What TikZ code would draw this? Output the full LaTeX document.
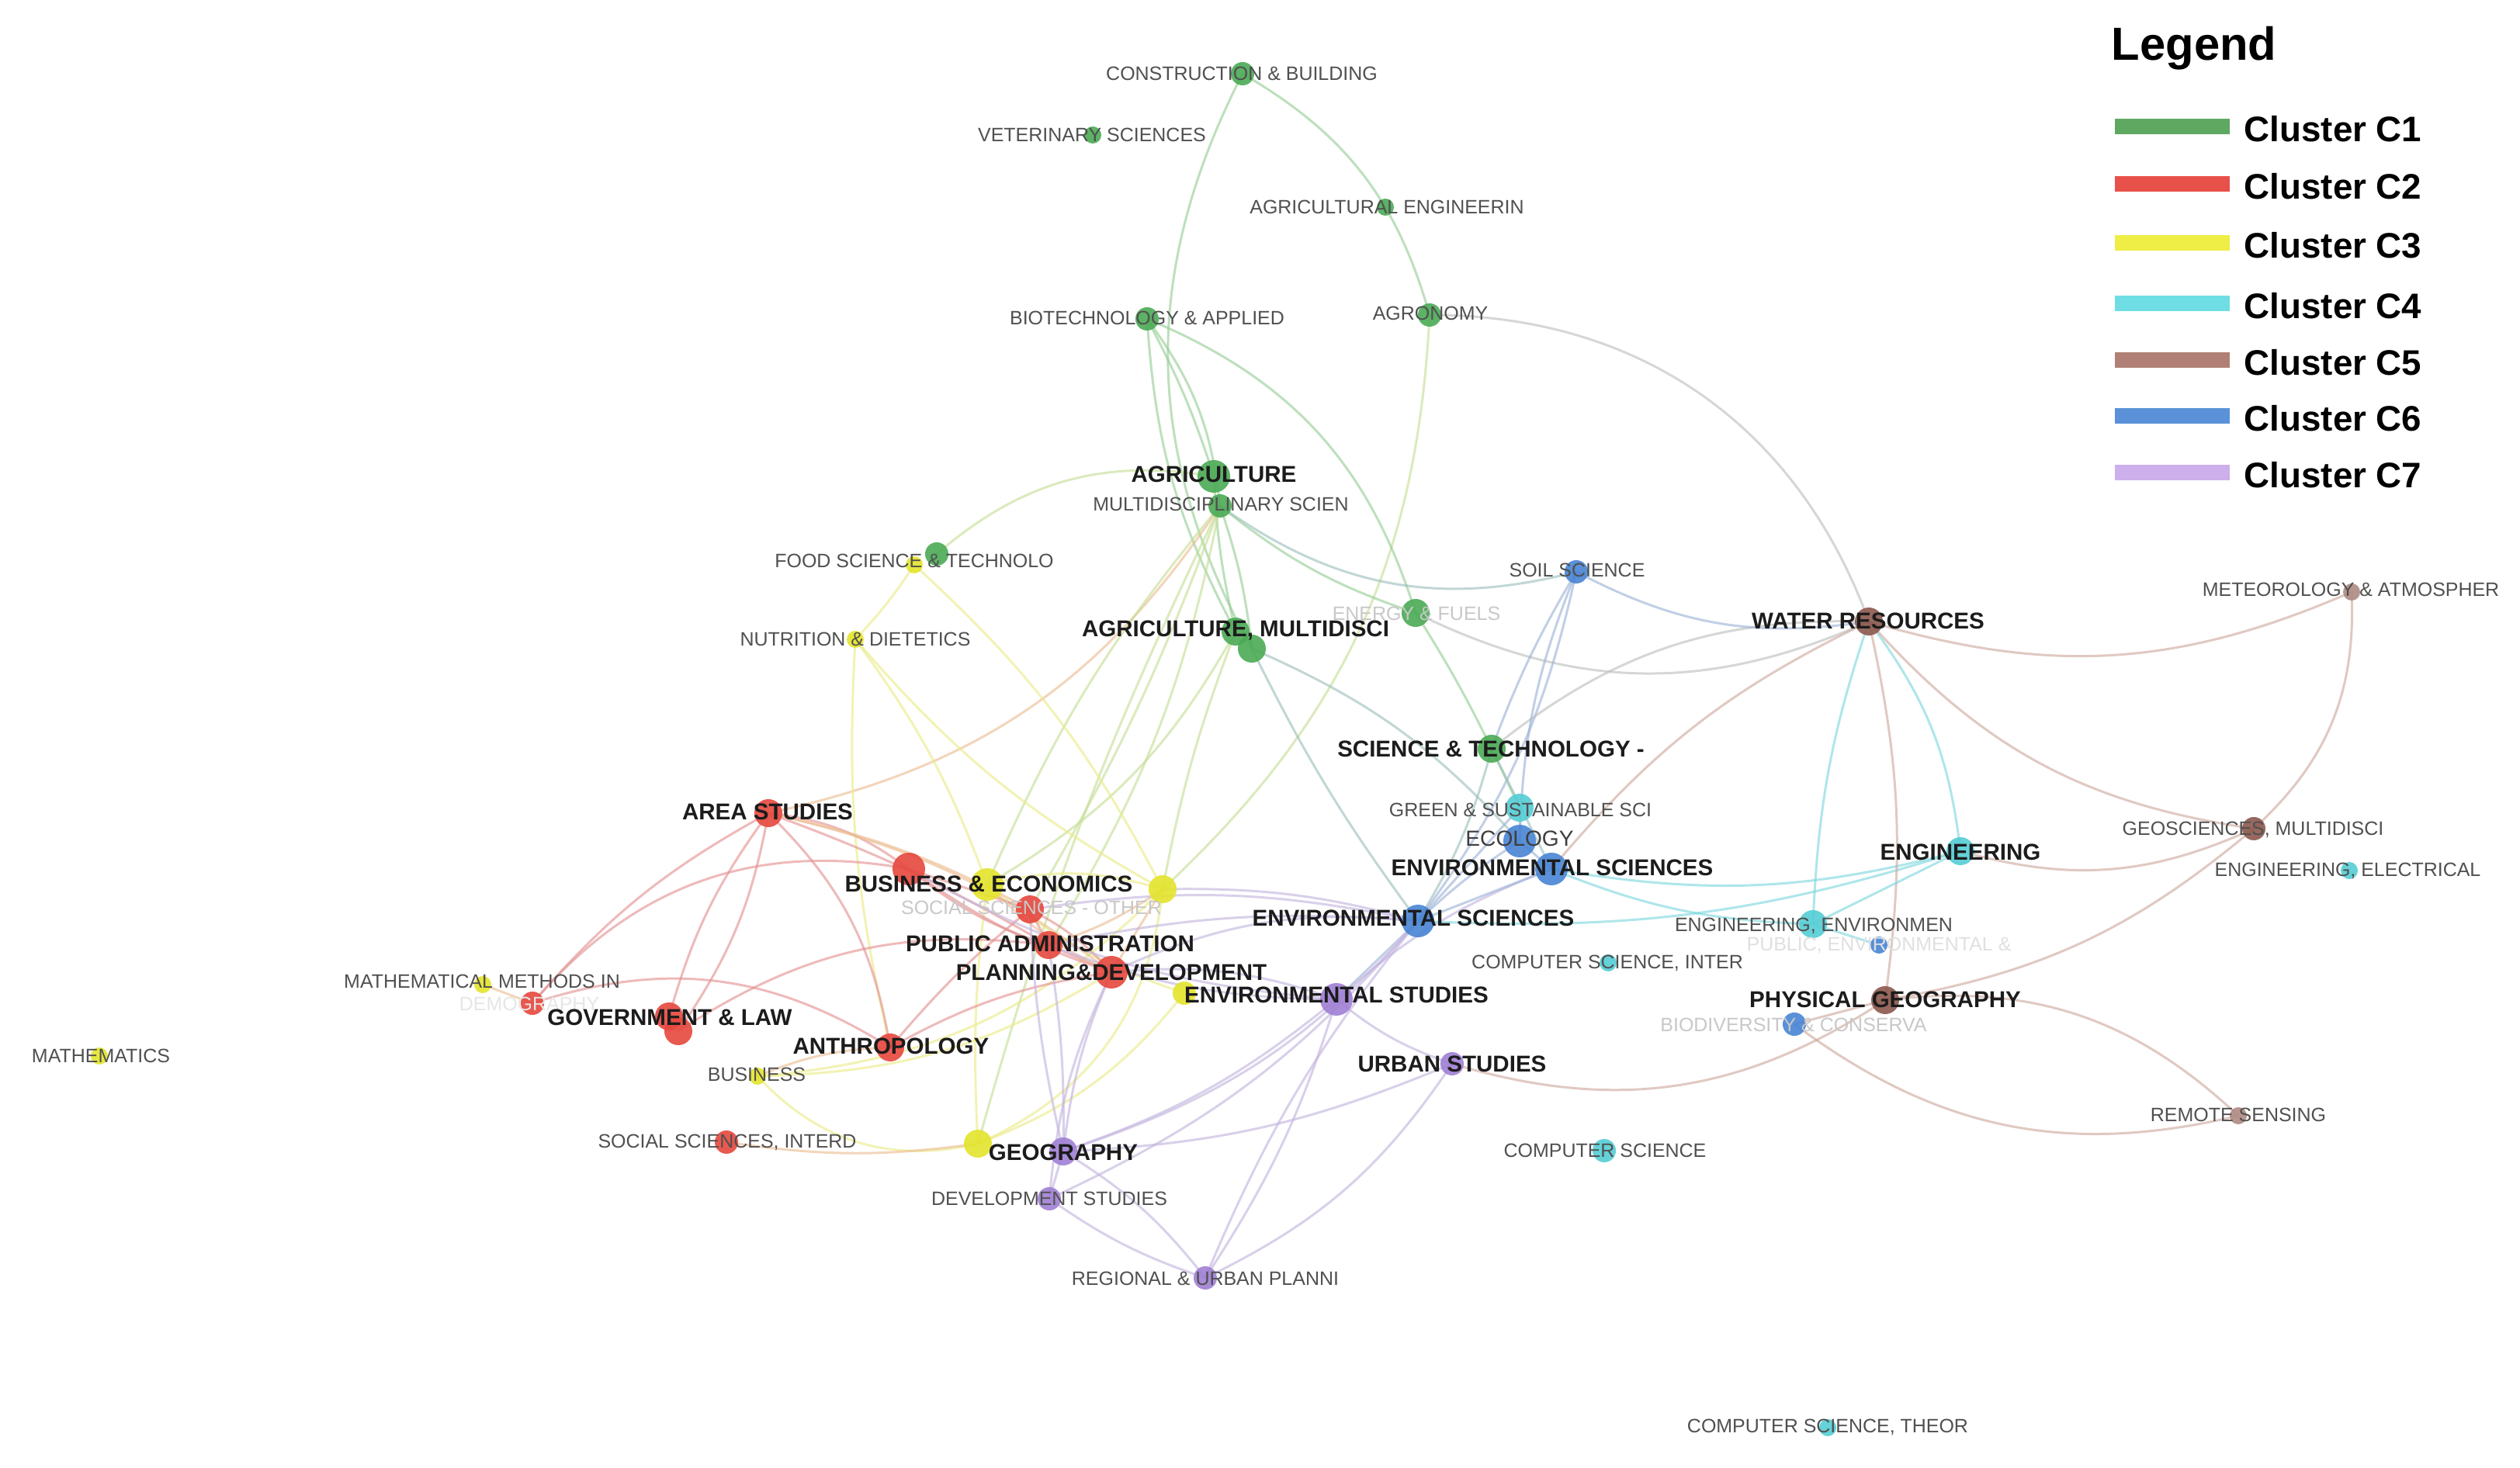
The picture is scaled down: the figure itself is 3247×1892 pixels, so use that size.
\documentclass[tikz,border=0pt]{standalone}
\usepackage{fontspec}
\setmainfont{Liberation Sans}
\definecolor{cG}{RGB}{75,170,85}
\definecolor{cR}{RGB}{230,72,62}
\definecolor{cY}{RGB}{228,228,45}
\definecolor{cC}{RGB}{85,205,212}
\definecolor{cBr}{RGB}{140,88,78}
\definecolor{cB}{RGB}{72,132,212}
\definecolor{cP}{RGB}{160,128,212}
\definecolor{eG}{RGB}{150,205,150}
\definecolor{eGY}{RGB}{198,222,150}
\definecolor{eY}{RGB}{235,235,135}
\definecolor{eR}{RGB}{228,145,145}
\definecolor{eRY}{RGB}{236,188,145}
\definecolor{eGr}{RGB}{188,192,188}
\definecolor{eGB}{RGB}{155,192,188}
\definecolor{eB}{RGB}{155,178,215}
\definecolor{eP}{RGB}{195,180,222}
\definecolor{eBr}{RGB}{205,168,158}
\definecolor{eC}{RGB}{125,215,222}
\definecolor{labgray}{RGB}{80,80,80}
\definecolor{labdark}{RGB}{28,28,28}
\definecolor{labfaint}{RGB}{200,200,200}
\definecolor{labvfaint}{RGB}{230,230,230}
\definecolor{L1}{RGB}{95,168,98}
\definecolor{L2}{RGB}{232,80,74}
\definecolor{L3}{RGB}{238,238,70}
\definecolor{L4}{RGB}{110,222,228}
\definecolor{L5}{RGB}{176,128,118}
\definecolor{L6}{RGB}{90,145,216}
\definecolor{L7}{RGB}{205,175,235}
\tikzset{
  dot/.style={circle, inner sep=0pt, draw=none, fill opacity=0.9},
  dXL/.style={minimum size=4.2mm},
  dL/.style={minimum size=3.6mm},
  dM/.style={minimum size=3.0mm},
  dS/.style={minimum size=2.2mm},
  lg/.style={text=labgray, font=\fontsize{7.1}{8}\selectfont, inner sep=0pt},
  lb/.style={text=labdark, font=\bfseries\fontsize{8.4}{9}\selectfont, inner sep=0pt},
  lf/.style={text=labfaint, font=\fontsize{7.1}{8}\selectfont, inner sep=0pt},
  ed/.style={line width=0.85pt, opacity=0.62},
  legbar/.style={inner sep=0pt, minimum width=1.47cm, minimum height=0.2cm},
  legtext/.style={anchor=west, inner sep=0pt, font=\bfseries\fontsize{13}{15}\selectfont},
}
\begin{document}
\begin{tikzpicture}[x=0.01cm,y=-0.01cm]
\useasboundingbox[fill=white] (0,0) rectangle (3247,1892);
% ---------- node positions ----------
\coordinate (con) at (1601,95);
\coordinate (vet) at (1408,174);
\coordinate (ageng) at (1785,267);
\coordinate (bio) at (1478,411);
\coordinate (agro) at (1842,406);
\coordinate (agr) at (1564,614);
\coordinate (mul) at (1572,652);
\coordinate (food) at (1207,714);
\coordinate (foody) at (1178,728);
\coordinate (nut) at (1102,824);
\coordinate (agm1) at (1592,814);
\coordinate (agm2) at (1613,836);
\coordinate (ene) at (1824,790);
\coordinate (soil) at (2031,737);
\coordinate (wat) at (2408,801);
\coordinate (met) at (3030,763);
\coordinate (sci) at (1922,965);
\coordinate (green) at (1958,1041);
\coordinate (eco) at (1958,1084);
\coordinate (env1) at (1999,1120);
\coordinate (eng) at (2526,1097);
\coordinate (geo5) at (2904,1068);
\coordinate (ele) at (3027,1122);
\coordinate (env2) at (1827,1187);
\coordinate (engenv) at (2336,1191);
\coordinate (pub) at (2421,1218);
\coordinate (csi) at (2072,1241);
\coordinate (phy) at (2429,1289);
\coordinate (bio2) at (2312,1320);
\coordinate (urb) at (1871,1371);
\coordinate (rem) at (2884,1438);
\coordinate (cs) at (2067,1483);
\coordinate (cst) at (2355,1840);
\coordinate (envst) at (1722,1288);
\coordinate (envsty) at (1526,1280);
\coordinate (bizr) at (1171,1120);
\coordinate (bizy) at (1272,1140);
\coordinate (yel2) at (1498,1146);
\coordinate (soc) at (1327,1172);
\coordinate (padm) at (1351,1218);
\coordinate (plan) at (1432,1253);
\coordinate (area) at (990,1048);
\coordinate (mat) at (622,1269);
\coordinate (demo) at (686,1293);
\coordinate (gov) at (862,1310);
\coordinate (gov2) at (874,1329);
\coordinate (ant) at (1147,1350);
\coordinate (bus) at (976,1387);
\coordinate (math) at (128,1361);
\coordinate (ssi) at (936,1472);
\coordinate (geoy) at (1260,1474);
\coordinate (geog) at (1370,1484);
\coordinate (dev) at (1352,1545);
\coordinate (reg) at (1553,1647);
% ---------- edges ----------
% green cluster
\draw[ed,eG] (con) to[bend right=28] (agm2);
\draw[ed,eG] (con) to[bend left=22] (agro);
\draw[ed,eGY] (agro) to[bend left=22] (yel2);
\draw[ed,eGr] (agro) to[bend left=35] (wat);
\draw[ed,eG] (bio) to[bend left=25] (ene);
\draw[ed,eG] (bio) to[bend right=12] (agm1);
\draw[ed,eG] (bio) to[bend left=5] (agr);
\draw[ed,eG] (bio) to[bend left=15] (mul);
\draw[ed,eGY] (agr) to[bend right=25] (food);
\draw[ed,eG] (agr) to[bend right=5] (agm1);
\draw[ed,eG] (mul) to[bend left=6] (agm2);
\draw[ed,eRY] (area) to[bend right=22] (mul);
\draw[ed,eGY] (mul) to[bend right=8] (bizy);
\draw[ed,eGY] (mul) to[bend left=5] (soc);
\draw[ed,eGY] (mul) to[bend left=10] (padm);
\draw[ed,eGB] (mul) to[bend right=25] (soil);
\draw[ed,eGr] (ene) to[bend right=25] (wat);
\draw[ed,eGB] (agm2) to[bend right=5] (env2);
\draw[ed,eGY] (agm1) to[bend left=15] (bizy);
\draw[ed,eGY] (agm1) to[bend right=5] (yel2);
\draw[ed,eG] (ene) to[bend left=3] (sci);
\draw[ed,eGB] (agm2) to[bend left=12] (eco);
\draw[ed,eG] (mul) to[bend right=10] (ene);
\draw[ed,eGY] (mul) to[bend right=5] (geoy);
% yellow cluster
\draw[ed,eY] (foody) to[bend left=5] (nut);
\draw[ed,eY] (nut) to[bend left=8] (bizy);
\draw[ed,eY] (nut) to[bend right=10] (yel2);
\draw[ed,eY] (nut) to[bend right=8] (ant);
\draw[ed,eY] (foody) to[bend left=10] (yel2);
\draw[ed,eY] (bizy) to[bend left=15] (yel2);
\draw[ed,eY] (bizy) to[bend right=10] (envsty);
\draw[ed,eY] (yel2) to[bend left=30] (geoy);
\draw[ed,eY] (bus) to[bend right=30] (geoy);
\draw[ed,eY] (bus) to[bend right=20] (yel2);
\draw[ed,eRY] (ssi) to[bend right=8] (geoy);
\draw[ed,eY] (bizy) to[bend right=5] (geoy);
\draw[ed,eY] (envsty) to[bend left=15] (geoy);
\draw[ed,eY] (bus) to[bend right=15] (plan);
\draw[ed,eRY] (mat) to (demo);
\draw[ed,eRY] (bus) to[bend left=10] (ant);
% red cluster
\draw[ed,eR] (area) to[bend right=10] (demo);
\draw[ed,eR] (area) to[bend right=10] (gov);
\draw[ed,eR] (area) to[bend left=12] (gov2);
\draw[ed,eR] (area) to[bend left=18] (ant);
\draw[ed,eR] (area) to[bend left=15] (bizr);
\draw[ed,eRY] (area) to[bend left=8] (soc);
\draw[ed,eR] (area) to[bend left=5] (padm);
\draw[ed,eRY] (area) to[bend left=12] (plan);
\draw[ed,eR] (demo) to[bend left=30] (bizr);
\draw[ed,eR] (demo) to[bend left=25] (ant);
\draw[ed,eR] (gov2) to[bend left=20] (padm);
\draw[ed,eR] (ant) to[bend left=5] (soc);
\draw[ed,eR] (bizr) to (soc);
\draw[ed,eR] (soc) to (padm);
\draw[ed,eR] (padm) to (plan);
\draw[ed,eR] (bizr) to[bend right=10] (padm);
\draw[ed,eR] (bizr) to[bend right=8] (plan);
\draw[ed,eR] (soc) to[bend left=10] (plan);
\draw[ed,eRY] (bizy) to[bend right=10] (plan);
\draw[ed,eRY] (yel2) to (plan);
\draw[ed,eRY] (yel2) to[bend left=8] (padm);
\draw[ed,eR] (ant) to[bend left=10] (plan);
% purple cluster and links
\draw[ed,eP] (plan) to[bend left=12] (envst);
\draw[ed,eP] (padm) to[bend right=10] (envst);
\draw[ed,eP] (soc) to[bend left=10] (env2);
\draw[ed,eP] (bizr) to[bend right=12] (envst);
\draw[ed,eP] (yel2) to[bend left=8] (env2);
\draw[ed,eP] (plan) to[bend left=15] (env2);
\draw[ed,eP] (padm) to[bend left=8] (env2);
\draw[ed,eB] (envst) to (env2);
\draw[ed,eP] (envst) to[bend left=10] (env1);
\draw[ed,eP] (envst) to[bend right=10] (urb);
\draw[ed,eP] (envst) to[bend left=8] (reg);
\draw[ed,eP] (envst) to[bend left=10] (geog);
\draw[ed,eP] (env2) to[bend right=8] (reg);
\draw[ed,eP] (env2) to[bend left=12] (dev);
\draw[ed,eP] (env2) to[bend left=15] (geog);
\draw[ed,eP] (urb) to[bend left=15] (reg);
\draw[ed,eP] (urb) to[bend left=10] (geog);
\draw[ed,eBr] (urb) to[bend right=25] (phy);
\draw[ed,eP] (geog) to (dev);
\draw[ed,eP] (geog) to[bend left=10] (reg);
\draw[ed,eP] (dev) to[bend right=8] (reg);
\draw[ed,eP] (geog) to[bend left=8] (plan);
\draw[ed,eP] (geog) to[bend right=5] (padm);
\draw[ed,eP] (dev) to[bend left=10] (plan);
\draw[ed,eP] (geog) to[bend left=5] (soc);
% blue / cyan / brown
\draw[ed,eB] (env2) to (env1);
\draw[ed,eB] (env2) to[bend left=5] (eco);
\draw[ed,eB] (env2) to (green);
\draw[ed,eGB] (env2) to[bend right=8] (sci);
\draw[ed,eB] (env2) to[bend right=12] (soil);
\draw[ed,eC] (env1) to[bend right=12] (eng);
\draw[ed,eC] (env2) to[bend right=10] (eng);
\draw[ed,eGr] (sci) to[bend left=20] (wat);
\draw[ed,eBr] (env1) to[bend left=12] (wat);
\draw[ed,eC] (wat) to[bend right=8] (engenv);
\draw[ed,eC] (wat) to[bend left=15] (eng);
\draw[ed,eBr] (wat) to[bend left=10] (phy);
\draw[ed,eBr] (wat) to[bend right=20] (geo5);
\draw[ed,eBr] (wat) to[bend right=20] (met);
\draw[ed,eBr] (met) to[bend left=25] (geo5);
\draw[ed,eBr] (eng) to[bend right=20] (geo5);
\draw[ed,eBr] (phy) to[bend right=15] (geo5);
\draw[ed,eBr] (phy) to[bend left=25] (rem);
\draw[ed,eBr] (bio2) to[bend right=25] (rem);
\draw[ed,eBr] (phy) to (bio2);
\draw[ed,eC] (eng) to (engenv);
\draw[ed,eC] (green) to (eco);
\draw[ed,eG] (sci) to (green);
\draw[ed,eB] (eco) to (env1);
\draw[ed,eB] (soil) to[bend right=10] (eco);
\draw[ed,eB] (soil) to[bend right=18] (wat);
\draw[ed,eB] (soil) to[bend right=5] (sci);
\draw[ed,eGB] (sci) to (env1);
\draw[ed,eC] (env1) to[bend right=10] (engenv);
\draw[ed,eC] (pub) to (engenv);
% ---------- dots ----------
\node[dot,dM,fill=cG] (con-d) at (con) {};
\node[dot,dS,fill=cG] (vet-d) at (vet) {};
\node[dot,dS,fill=cG] (ageng-d) at (ageng) {};
\node[dot,dM,fill=cG] (bio-d) at (bio) {};
\node[dot,dM,fill=cG] (agro-d) at (agro) {};
\node[dot,dXL,fill=cG] (agr-d) at (agr) {};
\node[dot,dM,fill=cG] (mul-d) at (mul) {};
\node[dot,dM,fill=cG] (food-d) at (food) {};
\node[dot,dS,fill=cY] (foody-d) at (foody) {};
\node[dot,dS,fill=cY] (nut-d) at (nut) {};
\node[dot,dL,fill=cG] (agm1-d) at (agm1) {};
\node[dot,dL,fill=cG] (agm2-d) at (agm2) {};
\node[dot,dL,fill=cG] (ene-d) at (ene) {};
\node[dot,dM,fill=cB] (soil-d) at (soil) {};
\node[dot,dL,fill=cBr] (wat-d) at (wat) {};
\node[dot,dS,fill=cBr!70] (met-d) at (met) {};
\node[dot,dL,fill=cG] (sci-d) at (sci) {};
\node[dot,dL,fill=cC] (green-d) at (green) {};
\node[dot,dXL,fill=cB] (eco-d) at (eco) {};
\node[dot,dXL,fill=cB] (env1-d) at (env1) {};
\node[dot,dL,fill=cC] (eng-d) at (eng) {};
\node[dot,dM,fill=cBr] (geo5-d) at (geo5) {};
\node[dot,dS,fill=cC] (ele-d) at (ele) {};
\node[dot,dXL,fill=cB] (env2-d) at (env2) {};
\node[dot,dL,fill=cC] (engenv-d) at (engenv) {};
\node[dot,dS,fill=cB] (pub-d) at (pub) {};
\node[dot,dS,fill=cC] (csi-d) at (csi) {};
\node[dot,dL,fill=cBr] (phy-d) at (phy) {};
\node[dot,dM,fill=cB] (bio2-d) at (bio2) {};
\node[dot,dM,fill=cP] (urb-d) at (urb) {};
\node[dot,dS,fill=cBr!70] (rem-d) at (rem) {};
\node[dot,dM,fill=cC] (cs-d) at (cs) {};
\node[dot,dS,fill=cC] (cst-d) at (cst) {};
\node[dot,dXL,fill=cP] (envst-d) at (envst) {};
\node[dot,dM,fill=cY] (envsty-d) at (envsty) {};
\node[dot,dXL,fill=cR] (bizr-d) at (bizr) {};
\node[dot,dXL,fill=cY] (bizy-d) at (bizy) {};
\node[dot,dL,fill=cY] (yel2-d) at (yel2) {};
\node[dot,dL,fill=cR] (soc-d) at (soc) {};
\node[dot,dL,fill=cR] (padm-d) at (padm) {};
\node[dot,dXL,fill=cR] (plan-d) at (plan) {};
\node[dot,dL,fill=cR] (area-d) at (area) {};
\node[dot,dS,fill=cY] (mat-d) at (mat) {};
\node[dot,dM,fill=cR] (demo-d) at (demo) {};
\node[dot,dL,fill=cR] (gov-d) at (gov) {};
\node[dot,dL,fill=cR] (gov2-d) at (gov2) {};
\node[dot,dL,fill=cR] (ant-d) at (ant) {};
\node[dot,dS,fill=cY] (bus-d) at (bus) {};
\node[dot,dS,fill=cY] (math-d) at (math) {};
\node[dot,dM,fill=cR] (ssi-d) at (ssi) {};
\node[dot,dL,fill=cY] (geoy-d) at (geoy) {};
\node[dot,dL,fill=cP] (geog-d) at (geog) {};
\node[dot,dM,fill=cP] (dev-d) at (dev) {};
\node[dot,dM,fill=cP] (reg-d) at (reg) {};
% ---------- labels ----------
\node[lg] (con-l) at (1600,95) {CONSTRUCTION \& BUILDING};
\node[lg] (vet-l) at (1407,174) {VETERINARY SCIENCES};
\node[lg] (ageng-l) at (1787,267) {AGRICULTURAL ENGINEERIN};
\node[lg] (bio-l) at (1478,410) {BIOTECHNOLOGY \& APPLIED};
\node[lg] (agro-l) at (1843,404) {AGRONOMY};
\node[lb] (agr-l) at (1564,611) {AGRICULTURE};
\node[lg] (mul-l) at (1573,650) {MULTIDISCIPLINARY SCIEN};
\node[lg] (food-l) at (1178,723) {FOOD SCIENCE \& TECHNOLO};
\node[lg] (nut-l) at (1102,824) {NUTRITION \& DIETETICS};
\node[lb] (agm-l) at (1592,812) {AGRICULTURE, MULTIDISCI};
\node[lf] (ene-l) at (1825,791) {ENERGY \& FUELS};
\node[lg] (soil-l) at (2032,735) {SOIL SCIENCE};
\node[lb] (wat-l) at (2407,800) {WATER RESOURCES};
\node[lg] (met-l) at (3029,760) {METEOROLOGY \& ATMOSPHER};
\node[lb] (sci-l) at (1921,965) {SCIENCE \& TECHNOLOGY -};
\node[lg] (green-l) at (1959,1044) {GREEN \& SUSTAINABLE SCI};
\node[lg,text=labdark!85,font=\fontsize{8}{9}\selectfont] (eco-l) at (1958,1081) {ECOLOGY};
\node[lb] (env1-l) at (2000,1118) {ENVIRONMENTAL SCIENCES};
\node[lb] (eng-l) at (2526,1098) {ENGINEERING};
\node[lg] (geo5-l) at (2903,1069) {GEOSCIENCES, MULTIDISCI};
\node[lg] (ele-l) at (3025,1122) {ENGINEERING, ELECTRICAL};
\node[lb] (env2-l) at (1821,1183) {ENVIRONMENTAL SCIENCES};
\node[lg] (engenv-l) at (2337,1193) {ENGINEERING, ENVIRONMEN};
\node[lf,text=labvfaint!80!labfaint] (pub-l) at (2421,1218) {PUBLIC, ENVIRONMENTAL \&};
\node[lg] (csi-l) at (2071,1241) {COMPUTER SCIENCE, INTER};
\node[lb] (phy-l) at (2429,1288) {PHYSICAL GEOGRAPHY};
\node[lf] (bio2-l) at (2311,1321) {BIODIVERSITY \& CONSERVA};
\node[lb] (urb-l) at (1871,1371) {URBAN STUDIES};
\node[lg] (rem-l) at (2884,1437) {REMOTE SENSING};
\node[lg] (cs-l) at (2068,1483) {COMPUTER SCIENCE};
\node[lg] (cst-l) at (2355,1839) {COMPUTER SCIENCE, THEOR};
\node[lb] (envst-l) at (1722,1282) {ENVIRONMENTAL STUDIES};
\node[lb] (biz-l) at (1274,1139) {BUSINESS \& ECONOMICS};
\node[lf] (soc-l) at (1329,1170) {SOCIAL SCIENCES - OTHER};
\node[lb] (padm-l) at (1353,1216) {PUBLIC ADMINISTRATION};
\node[lb] (plan-l) at (1432,1253) {PLANNING\&DEVELOPMENT};
\node[lb] (area-l) at (989,1046) {AREA STUDIES};
\node[lg] (mat-l) at (621,1265) {MATHEMATICAL METHODS IN};
\node[lf,text=labvfaint] (demo-l) at (682,1294) {DEMOGRAPHY};
\node[lb] (gov-l) at (863,1311) {GOVERNMENT \& LAW};
\node[lb] (ant-l) at (1148,1348) {ANTHROPOLOGY};
\node[lg] (bus-l) at (975,1385) {BUSINESS};
\node[lg] (math-l) at (130,1361) {MATHEMATICS};
\node[lg] (ssi-l) at (937,1472) {SOCIAL SCIENCES, INTERD};
\node[lb] (geog-l) at (1370,1485) {GEOGRAPHY};
\node[lg] (dev-l) at (1352,1545) {DEVELOPMENT STUDIES};
\node[lg] (reg-l) at (1553,1648) {REGIONAL \& URBAN PLANNI};
% ---------- legend ----------
\node[anchor=base west, inner sep=0pt, font=\bfseries\fontsize{17}{20}\selectfont] (legtitle) at (2720,78) {Legend};
\node[legbar,fill=L1] (bar1) at (2799,163) {};
\node[legbar,fill=L2] (bar2) at (2799,237) {};
\node[legbar,fill=L3] (bar3) at (2799,313) {};
\node[legbar,fill=L4] (bar4) at (2799,391) {};
\node[legbar,fill=L5] (bar5) at (2799,464) {};
\node[legbar,fill=L6] (bar6) at (2799,536) {};
\node[legbar,fill=L7] (bar7) at (2799,609) {};
\node[legtext] (leg1) at (2891,166) {Cluster C1};
\node[legtext] (leg2) at (2891,240) {Cluster C2};
\node[legtext] (leg3) at (2891,316) {Cluster C3};
\node[legtext] (leg4) at (2891,394) {Cluster C4};
\node[legtext] (leg5) at (2891,467) {Cluster C5};
\node[legtext] (leg6) at (2891,539) {Cluster C6};
\node[legtext] (leg7) at (2891,612) {Cluster C7};
\end{tikzpicture}
\end{document}
